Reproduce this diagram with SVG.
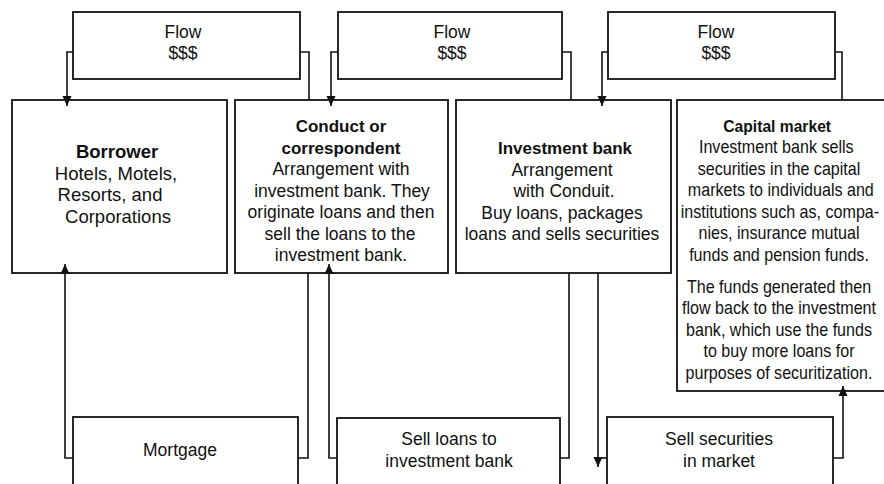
<svg xmlns="http://www.w3.org/2000/svg" width="884" height="484" viewBox="0 0 884 484">
<style>
.box{fill:#fff;stroke:#111;stroke-width:1.8}
.con{fill:none;stroke:#111;stroke-width:1.6}
text{font-family:"Liberation Sans",Arial,sans-serif;font-size:17.5px;fill:#111;text-anchor:middle}
.b{font-weight:bold;font-size:17px}
.big{font-size:18.5px}
</style>
<defs>
<marker id="ah" viewBox="0 0 10 10" refX="10" refY="5" markerWidth="10" markerHeight="10" orient="auto" markerUnits="userSpaceOnUse">
<path d="M0,0.5 L10,5 L0,9.5 z" fill="#111"/>
</marker>
</defs>
<rect width="884" height="484" fill="#fff"/>

<g id="flow1">
<rect class="box" x="73" y="12" width="227" height="67"/>
<text x="183" y="38">Flow</text>
<text x="183" y="59">$$$</text>
</g>
<g id="flow2">
<rect class="box" x="338" y="12" width="224" height="67"/>
<text x="452" y="38">Flow</text>
<text x="452" y="59">$$$</text>
</g>
<g id="flow3">
<rect class="box" x="608" y="12" width="227" height="67"/>
<text x="716" y="38">Flow</text>
<text x="716" y="59">$$$</text>
</g>

<g id="borrower">
<rect class="box" x="12" y="100" width="215" height="173"/>
<text class="b big" x="117" y="158">Borrower</text>
<text class="big" x="116" y="180">Hotels, Motels,</text>
<text class="big" x="110" y="201">Resorts, and</text>
<text class="big" x="118" y="222.5">Corporations</text>
</g>

<g id="conduct">
<rect class="box" x="235" y="100" width="213" height="173"/>
<text class="b" x="341" y="132">Conduct or</text>
<text class="b" x="341" y="153.5">correspondent</text>
<text x="341" y="175">Arrangement with</text>
<text x="342" y="196.5">investment bank. They</text>
<text x="341" y="218">originate loans and then</text>
<text x="340" y="239.5">sell the loans to the</text>
<text x="341" y="261">investment bank.</text>
</g>

<g id="investment-bank">
<rect class="box" x="456" y="100" width="215" height="173"/>
<text class="b" x="565" y="154">Investment bank</text>
<text x="562" y="175.5">Arrangement</text>
<text x="564" y="197">with Conduit.</text>
<text x="562" y="218.5">Buy loans, packages</text>
<text x="562" y="240">loans and sells securities</text>
</g>

<g id="capital-market">
<rect class="box" x="677" y="100" width="215" height="291"/>
<g transform="translate(779,0) scale(0.92,1)">
<text class="b" x="-2" y="132">Capital market</text>
<text x="-3" y="153.5">Investment bank sells</text>
<text x="0" y="175">securities in the capital</text>
<text x="2" y="196.5">markets to individuals and</text>
<text x="1" y="218">institutions such as, compa-</text>
<text x="0" y="239.5">nies, insurance mutual</text>
<text x="0" y="261">funds and pension funds.</text>
<text x="0" y="293">The funds generated then</text>
<text x="0" y="314.5">flow back to the investment</text>
<text x="0" y="336">bank, which use the funds</text>
<text x="0" y="357.5">to buy more loans for</text>
<text x="0" y="379">purposes of securitization.</text>
</g>
</g>

<g id="mortgage">
<rect class="box" x="73" y="417" width="225" height="90"/>
<text x="180" y="456">Mortgage</text>
</g>
<g id="sell-loans">
<rect class="box" x="337" y="418" width="223" height="90"/>
<text x="449" y="445">Sell loans to</text>
<text x="449" y="466.5">investment bank</text>
</g>
<g id="sell-securities">
<rect class="box" x="607" y="417" width="226" height="90"/>
<text x="719" y="445">Sell securities</text>
<text x="719" y="466.5">in market</text>
</g>

<g id="connectors">
<path class="con" d="M73,52 H67 V106" marker-end="url(#ah)"/>
<path class="con" d="M300,52 H309 V100"/>
<path class="con" d="M338,52 H331 V106" marker-end="url(#ah)"/>
<path class="con" d="M562,52 H571 V100"/>
<path class="con" d="M608,52 H602 V106" marker-end="url(#ah)"/>
<path class="con" d="M835,52 H842 V100"/>
<path class="con" d="M73,458 H65 V264" marker-end="url(#ah)"/>
<path class="con" d="M298,458 H308 V273"/>
<path class="con" d="M337,458 H329 V264" marker-end="url(#ah)"/>
<path class="con" d="M560,458 H569 V273"/>
<path class="con" d="M598,273 V467" marker-end="url(#ah)"/>
<path class="con" d="M598,458 H607"/>
<path class="con" d="M833,458 H843 V386" marker-end="url(#ah)"/>
</g>
</svg>
